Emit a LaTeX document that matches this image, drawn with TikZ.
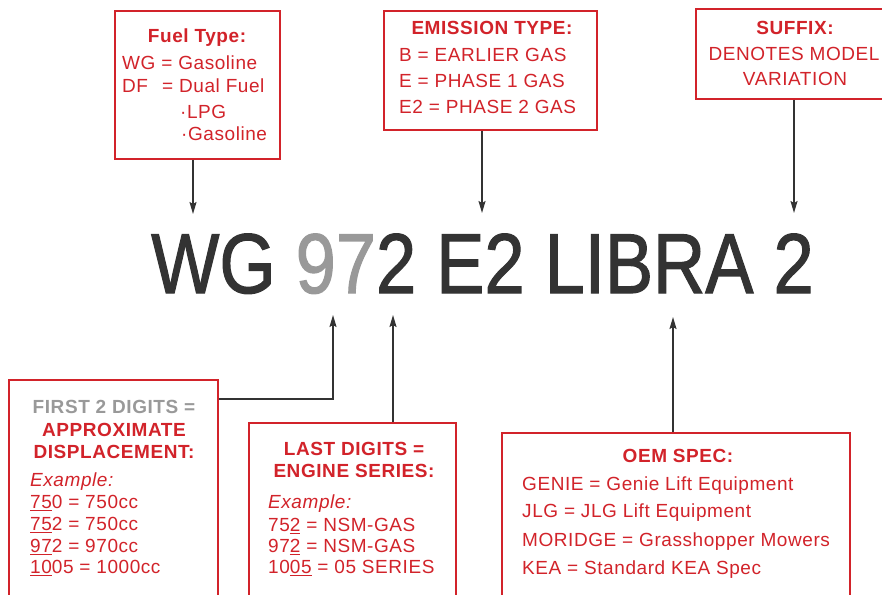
\documentclass[tikz,border=0pt]{standalone}
\usepackage{fontspec}
\setmainfont{Liberation Sans}
\newfontfamily\boxfont{Liberation Sans}[LetterSpace=3]
\newfontfamily\bigfont{Liberation Sans}[FakeBold=1.5]
\usetikzlibrary{arrows.meta}
\definecolor{boxred}{HTML}{D2232A}
\definecolor{ink}{HTML}{333333}
\definecolor{lightink}{HTML}{999999}
\newbox\ulbox
\newcommand\uln[1]{\setbox\ulbox\hbox{#1}\rlap{\rule[-3pt]{\wd\ulbox}{1.4pt}}\box\ulbox}
\tikzset{
  box/.style={draw=boxred, line width=1.8pt, inner sep=0pt, rectangle, anchor=north west},
  txt/.style={inner sep=0pt, text=boxred, font={\boxfont\fontsize{19}{22}\selectfont}},
  txtl/.style={txt, anchor=base west},
  txtc/.style={txt, anchor=base},
  head/.style={txtc, font={\boxfont\bfseries\fontsize{19}{22}\selectfont}},
  exm/.style={txtl, font={\boxfont\itshape\fontsize{19}{22}\selectfont}},
  arr/.style={draw=ink, line width=1.5pt, -{Stealth[length=12pt,width=7pt,inset=2pt]}}
}
\begin{document}
\begin{tikzpicture}[x=1pt,y=-1pt]
\useasboundingbox (0,0) rectangle (882,594);
\clip (0,0) rectangle (882,594);
\fill[white] (0,0) rectangle (882,594);

% model designation
\node[anchor=base west, inner sep=0pt, text=ink] (model) at (151,293)
  {\scalebox{0.85}[1]{\bigfont\fontsize{85}{90}\selectfont WG \textcolor{lightink}{97}2 E2 LIBRA 2}};
\coordinate (fueltip) at (193,214);
\coordinate (emistip) at (482,213);
\coordinate (suftip) at (794,213);
\coordinate (disptip) at (333,315);
\coordinate (sertip) at (393,315);
\coordinate (oemtip) at (673,317);

% Fuel type box
\node[box, minimum width=165pt, minimum height=148pt] (fuel) at (114,10) {};
\node[head] (fuelh) at (197,42) {Fuel Type:};
\node[txtl] (fuel1) at (122,70) {WG = Gasoline};
\node[txtl] (fuel2a) at (122,92) {DF};
\node[txtl] (fuel2b) at (162,92) {= Dual Fuel};
\node[txtl] (fuel3) at (180,118) {\textperiodcentered LPG};
\node[txtl] (fuel4) at (181,140) {\textperiodcentered Gasoline};

% Emission type box
\node[box, minimum width=213pt, minimum height=119pt] (emis) at (383,10) {};
\node[head] (emish) at (492,35) {EMISSION TYPE:};
\node[txtl] (emis1) at (399,62) {B = EARLIER GAS};
\node[txtl] (emis2) at (399,87) {E = PHASE 1 GAS};
\node[txtl] (emis3) at (399,113) {E2 = PHASE 2 GAS};

% Suffix box
\node[box, minimum width=200pt, minimum height=90pt] (suffix) at (695,8) {};
\node[head] (sufh) at (795,35) {SUFFIX:};
\node[txtc] (suf1) at (794,60) {DENOTES MODEL};
\node[txtc] (suf2) at (795,85) {VARIATION};

% Displacement box
\node[box, minimum width=209pt, minimum height=240pt] (disp) at (8,379) {};
\node[head, text=lightink] (disph1) at (114,413) {FIRST 2 DIGITS =};
\node[head] (disph2) at (114,436) {APPROXIMATE};
\node[head] (disph3) at (114,458) {DISPLACEMENT:};
\node[exm] (dispex) at (30,486) {Example:};
\node[txtl] (disp1) at (30,508) {\uln{75}0 = 750cc};
\node[txtl] (disp2) at (30,530) {\uln{75}2 = 750cc};
\node[txtl] (disp3) at (30,552) {\uln{97}2 = 970cc};
\node[txtl] (disp4) at (30,573) {\uln{10}05 = 1000cc};

% Engine series box
\node[box, minimum width=207pt, minimum height=220pt] (series) at (248,422) {};
\node[head] (serh1) at (354,455) {LAST DIGITS =};
\node[head] (serh2) at (354,477) {ENGINE SERIES:};
\node[exm] (serex) at (268,508) {Example:};
\node[txtl] (ser1) at (268,531) {75\uln{2} = NSM-GAS};
\node[txtl] (ser2) at (268,552) {97\uln{2} = NSM-GAS};
\node[txtl] (ser3) at (268,573) {10\uln{05} = 05 SERIES};

% OEM spec box
\node[box, minimum width=348pt, minimum height=220pt] (oem) at (501,432) {};
\node[head] (oemh) at (678,462) {OEM SPEC:};
\node[txtl] (oem1) at (522,490) {GENIE = Genie Lift Equipment};
\node[txtl] (oem2) at (522,517) {JLG = JLG Lift Equipment};
\node[txtl] (oem3) at (522,546) {MORIDGE = Grasshopper Mowers};
\node[txtl] (oem4) at (522,574) {KEA = Standard KEA Spec};

% connectors
\draw[arr] (fueltip |- fuel.south) -- (fueltip);
\draw[arr] (emistip |- emis.south) -- (emistip);
\draw[arr] (suftip |- suffix.south) -- (suftip);
\draw[arr] ([yshift=-20pt]disp.north east) -| (disptip);
\draw[arr] (sertip |- series.north) -- (sertip);
\draw[arr] (oemtip |- oem.north) -- (oemtip);
\end{tikzpicture}
\end{document}
